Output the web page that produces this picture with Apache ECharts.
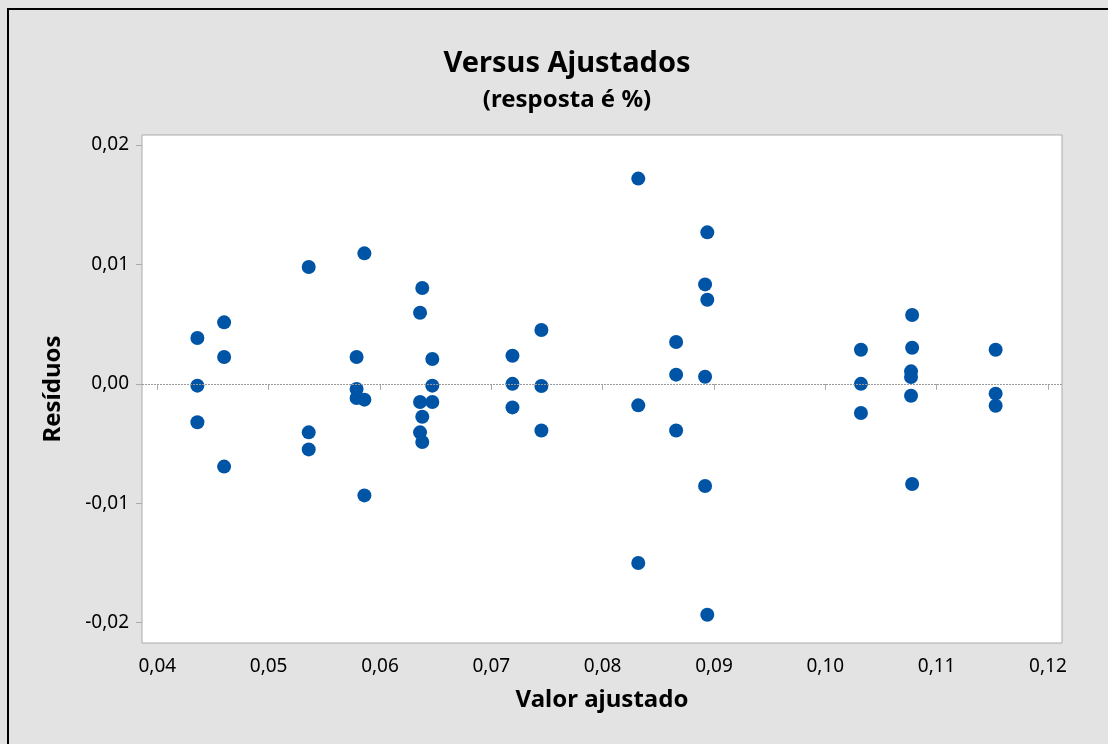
<!DOCTYPE html>
<html>
<head>
<meta charset="utf-8">
<script src="https://cdn.jsdelivr.net/npm/echarts@6/dist/echarts.min.js"></script>
<style>
  html, body { margin: 0; padding: 0; background: #e3e3e3; }
  #frame {
    position: absolute; left: 7px; top: 8px; width: 1110px; height: 750px;
    border-left: 2px solid #000; border-top: 2px solid #000; box-sizing: border-box;
  }
  #chart { position: absolute; left: 0; top: 0; width: 1108px; height: 744px; }
</style>
</head>
<body>
<div id="chart"></div>
<div id="frame"></div>
<script>
// Fitted values and their residuals (one pair per observation)
const fitted = [
  0.0436, 0.0436, 0.0436,
  0.0460, 0.0460, 0.0460,
  0.0536, 0.0536, 0.0536,
  0.0586, 0.0579, 0.0579, 0.0579, 0.0586, 0.0586,
  0.0638, 0.0636, 0.0636, 0.0638, 0.0636, 0.0638,
  0.0647, 0.0647, 0.0647,
  0.0719, 0.0719, 0.0719,
  0.0745, 0.0745, 0.0745,
  0.0832, 0.0832, 0.0832,
  0.0866, 0.0866, 0.0866,
  0.0894, 0.0892, 0.0894, 0.0892, 0.0892, 0.0894,
  0.1032, 0.1032, 0.1032,
  0.1078, 0.1078, 0.1077, 0.1077, 0.1077, 0.1078,
  0.1153, 0.1153, 0.1153
];
const residuals = [
  0.00384, -0.00015, -0.00322,
  0.00515, 0.00225, -0.00693,
  0.00979, -0.00406, -0.00549,
  0.01093, 0.00225, -0.00043, -0.00118, -0.00132, -0.00934,
  0.00803, 0.00596, -0.00152, -0.00275, -0.00406, -0.00487,
  0.00208, -0.00015, -0.00152,
  0.00236, 0.00000, -0.00197,
  0.00451, -0.00018, -0.00390,
  0.01719, -0.00180, -0.01500,
  0.00351, 0.00077, -0.00390,
  0.01269, 0.00833, 0.00705, 0.00060, -0.00855, -0.01933,
  0.00286, 0.00000, -0.00244,
  0.00577, 0.00303, 0.00105, 0.00058, -0.00099, -0.00838,
  0.00286, -0.00082, -0.00183
];
const xTicks = [0.04, 0.05, 0.06, 0.07, 0.08, 0.09, 0.10, 0.11, 0.12];
const yTicks = [-0.02, -0.01, 0.00, 0.01, 0.02];
const xRange = [0.038625, 0.12126];
const yRange = [-0.0217, 0.02084];

const points = fitted.map((x, i) => [x, residuals[i]]);
const fmt = v => (Math.abs(v) < 1e-9 ? 0 : v).toFixed(2).replace('.', ',');
const FONT = 'Noto Sans';

const chart = echarts.init(document.getElementById('chart'), null, { renderer: 'canvas' });
chart.setOption({
  backgroundColor: '#e3e3e3',
  animation: false,
  title: {
    text: 'Versus Ajustados',
    subtext: '(resposta é %)',
    left: 562,
    top: 44,
    textAlign: 'center',
    itemGap: 10,
    textStyle: { fontFamily: FONT, fontSize: 29, fontWeight: 'bold', color: '#000' },
    subtextStyle: { fontFamily: FONT, fontSize: 24, fontWeight: 'bold', color: '#000' }
  },
  grid: {
    left: 142, top: 135, width: 920, height: 508,
    show: true, backgroundColor: '#ffffff', borderColor: '#ababab', borderWidth: 1
  },
  xAxis: {
    type: 'value',
    min: xRange[0], max: xRange[1],
    name: 'Valor ajustado',
    nameLocation: 'middle',
    nameGap: 45,
    nameTextStyle: { fontFamily: FONT, fontSize: 24, fontWeight: 'bold', color: '#000' },
    axisLine: { show: false },
    splitLine: { show: false },
    axisTick: { show: true, customValues: xTicks, length: 6, lineStyle: { color: '#ababab' } },
    axisLabel: { customValues: xTicks, formatter: fmt, margin: 14,
      fontFamily: FONT, fontSize: 19, color: '#000' }
  },
  yAxis: {
    type: 'value',
    min: yRange[0], max: yRange[1],
    name: 'Resíduos',
    nameLocation: 'middle',
    nameGap: 77,
    nameTextStyle: { fontFamily: FONT, fontSize: 24, fontWeight: 'bold', color: '#000' },
    axisLine: { show: false },
    splitLine: { show: false },
    axisTick: { show: true, customValues: yTicks, length: 6, lineStyle: { color: '#ababab' } },
    axisLabel: { customValues: yTicks, formatter: fmt, margin: 13,
      fontFamily: FONT, fontSize: 19, color: '#000' }
  },
  series: [{
    type: 'scatter',
    data: points,
    symbol: 'circle',
    symbolSize: 14,
    itemStyle: { color: '#0054a6', opacity: 1 },
    silent: true,
    markLine: {
      silent: true,
      symbol: 'none',
      label: { show: false },
      lineStyle: { type: [2, 1], color: '#9a9a9a', width: 1 },
      data: [{ yAxis: 0 }]
    },
    z: 3
  }]
});
</script>
</body>
</html>
